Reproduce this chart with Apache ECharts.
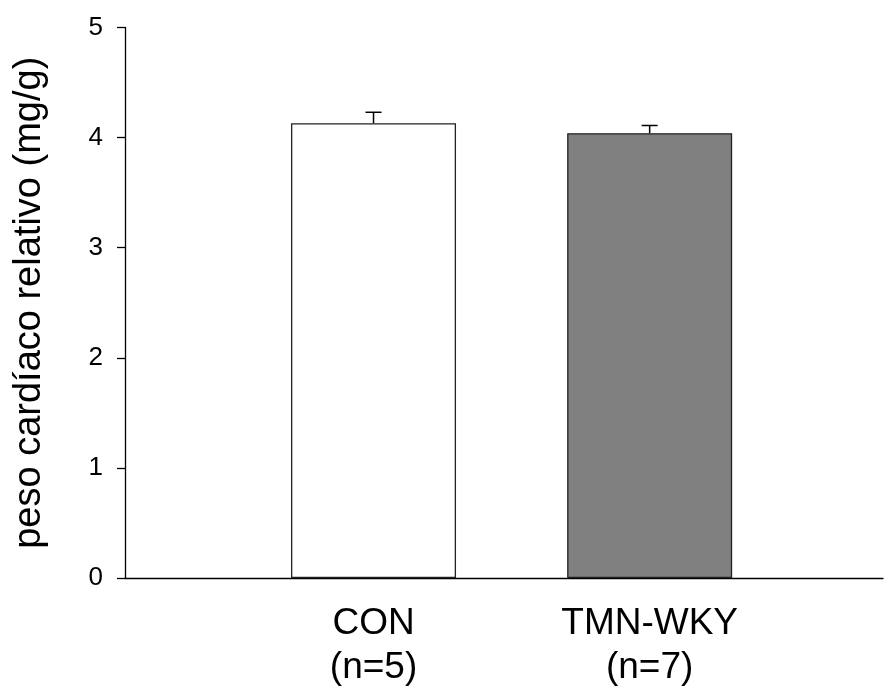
<!DOCTYPE html>
<html>
<head>
<meta charset="utf-8">
<script src="https://cdn.jsdelivr.net/npm/echarts@6/dist/echarts.min.js"></script>
<style>
  html, body { margin: 0; padding: 0; background: #fff; }
  #chart { width: 885px; height: 690px; }
</style>
</head>
<body>
<div id="chart"></div>
<script>
// group labels, positions on the x axis, means and SEM
const groups = ['CON\n(n=5)', 'TMN-WKY\n(n=7)']
const groupPos = [1, 2]
const means = [4.13, 4.04]
const sem = [0.10, 0.07]
const fills = ['#ffffff', '#808080']
const yTicks = [0, 1, 2, 3, 4, 5]

const font = '"Liberation Sans", Arial, sans-serif'
const chart = echarts.init(document.getElementById('chart'))

chart.setOption({
  animation: false,
  grid: { left: 125, right: 2, top: 27.5, bottom: 107.5 },
  xAxis: {
    type: 'value', min: 0.1, max: 2.845,
    splitLine: { show: false },
    axisLine: { show: true, onZero: false, lineStyle: { color: '#000', width: 1.3 } },
    axisTick: { show: false },
    axisLabel: {
      customValues: groupPos,
      formatter: v => groups[groupPos.indexOf(v)] || '',
      color: '#000', fontFamily: font, fontSize: 37, lineHeight: 44, margin: 24
    }
  },
  yAxis: {
    type: 'value', min: yTicks[0], max: yTicks[yTicks.length - 1], interval: 1,
    name: 'peso cardíaco relativo (mg/g)',
    nameLocation: 'middle', nameGap: 76,
    nameTextStyle: { color: '#000', fontFamily: font, fontSize: 38 },
    splitLine: { show: false },
    axisLine: { show: true, lineStyle: { color: '#000', width: 1.3 } },
    axisTick: { show: true, length: 8, lineStyle: { color: '#000', width: 1.3 } },
    axisLabel: { color: '#000', fontFamily: font, fontSize: 26, margin: 22 }
  },
  series: [
    {
      type: 'bar', barWidth: 165,
      data: means.map((m, i) => ({
        value: [groupPos[i], m],
        itemStyle: { color: fills[i], borderColor: '#222', borderWidth: 1.3 }
      })),
      z: 2
    },
    {
      type: 'custom', z: 3,
      data: means.map((m, i) => [groupPos[i], m, m + sem[i]]),
      renderItem: (params, api) => {
        const lo = api.coord([api.value(0), api.value(1)])
        const hi = api.coord([api.value(0), api.value(2)])
        const st = { stroke: '#000', lineWidth: 1.5 }
        return {
          type: 'group',
          children: [
            { type: 'line', shape: { x1: lo[0], y1: lo[1], x2: hi[0], y2: hi[1] }, style: st },
            { type: 'line', shape: { x1: hi[0] - 8, y1: hi[1], x2: hi[0] + 8, y2: hi[1] }, style: st }
          ]
        }
      }
    }
  ]
})
</script>
</body>
</html>
